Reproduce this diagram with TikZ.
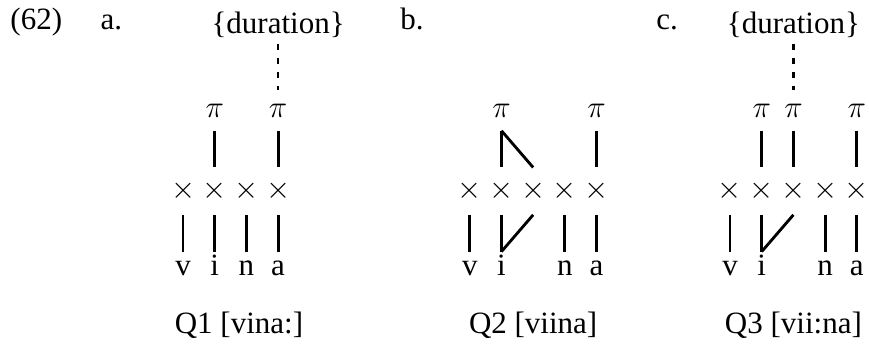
\documentclass[tikz,border=0pt]{standalone}
\usepackage{fontspec}
\setmainfont{Liberation Serif}
\usetikzlibrary{positioning}

\begin{document}
\begin{tikzpicture}[font=\fontsize{12}{14}\selectfont, node distance=0.5cm,
    skel/.style={inner sep=0pt, minimum height=0.63cm},
    prom/.style={inner sep=0pt, minimum height=0.54cm},
    seg/.style={inner sep=2pt, text height=1.5ex, text depth=0pt},
    tag/.style={anchor=base west, inner sep=0pt},
    feat/.style={inner sep=0pt},
    stem/.style={line width=1.1pt},
    link/.style={line width=1pt, dash pattern=on 2.4pt off 3pt, shorten <=0.07cm}]
  \useasboundingbox (0,0) rectangle (11.82,-4.68);
  % Example labels
  \node[tag] (ex) at (0.135,-0.40) {(62)};
  \node[tag] (la) at (1.36,-0.40) {a.};
  \node[tag] (lb) at (5.44,-0.40) {b.};
  \node[tag] (lc) at (8.92,-0.40) {c.};
  % a. Q1 [vina:]
  \foreach \i/\xpos in {1/2.49, 2/2.921, 3/3.352, 4/3.783} {
    \node[skel] (ax\i) at (\xpos,-2.6) {$\times$};
  }
  \foreach \i/\ltr in {1/v, 2/i, 3/n, 4/a} {
    \node[seg, below=of ax\i] (as\i) {\ltr};
    \draw[stem] (ax\i) -- (as\i);
  }
  \node[prom, above=of ax2] (ap2) {$\pi$};
  \node[prom, above=of ax4] (ap4) {$\pi$};
  \draw[stem] (ap2) -- (ax2);
  \draw[stem] (ap4) -- (ax4);
  \node[feat, above=0.7cm of ap4] (adur) {\{duration\}};
  \draw[link] (adur) -- (ap4);
  \node[anchor=base] (qa) at (3.25,-4.53) {Q1 [vina:]};
  % b. Q2 [viina]
  \foreach \i/\xpos in {1/6.39, 2/6.821, 3/7.252, 4/7.683, 5/8.114} {
    \node[skel] (bx\i) at (\xpos,-2.6) {$\times$};
  }
  \foreach \i/\ltr in {1/v, 2/i, 4/n, 5/a} {
    \node[seg, below=of bx\i] (bs\i) {\ltr};
    \draw[stem] (bx\i) -- (bs\i);
  }
  \draw[stem] (bx3.south) -- (bs2.north);
  \node[prom, above=of bx2] (bp2) {$\pi$};
  \node[prom, above=of bx5] (bp5) {$\pi$};
  \draw[stem] (bp2) -- (bx2);
  \draw[stem] (bp2.south) -- (bx3.north);
  \draw[stem] (bp5) -- (bx5);
  \node[anchor=base] (qb) at (7.252,-4.53) {Q2 [viina]};
  % c. Q3 [vii:na]
  \foreach \i/\xpos in {1/9.93, 2/10.361, 3/10.792, 4/11.223, 5/11.654} {
    \node[skel] (cx\i) at (\xpos,-2.6) {$\times$};
  }
  \foreach \i/\ltr in {1/v, 2/i, 4/n, 5/a} {
    \node[seg, below=of cx\i] (cs\i) {\ltr};
    \draw[stem] (cx\i) -- (cs\i);
  }
  \draw[stem] (cx3.south) -- (cs2.north);
  \foreach \i in {2, 3, 5} {
    \node[prom, above=of cx\i] (cp\i) {$\pi$};
    \draw[stem] (cp\i) -- (cx\i);
  }
  \node[feat, above=0.7cm of cp3] (cdur) {\{duration\}};
  \draw[link] (cdur) -- (cp3);
  \node[anchor=base] (qc) at (10.792,-4.53) {Q3 [vii:na]};
\end{tikzpicture}
\end{document}
